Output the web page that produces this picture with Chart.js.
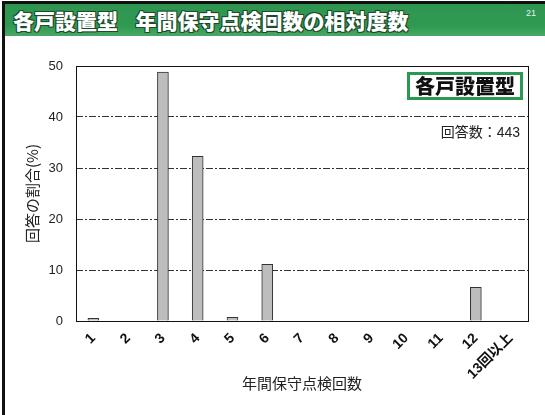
<!DOCTYPE html>
<html lang="ja">
<head>
<meta charset="utf-8">
<script src="https://cdn.jsdelivr.net/npm/chart.js@4/dist/chart.umd.min.js"></script>
<style>
  html, body { margin: 0; padding: 0; background: #ffffff; }
  body { width: 545px; height: 415px; position: relative; overflow: hidden; font-family: "Noto Sans CJK JP", "Liberation Sans", sans-serif; }
  #frame { position: absolute; left: 2px; top: 1px; width: 600px; height: 500px; border-top: 3px solid #111; border-left: 3px solid #111; box-sizing: border-box; }
  #titlebar { position: absolute; left: 5px; top: 4px; width: 545px; height: 32px; background: linear-gradient(#2e9550 0%, #2f9a52 70%, #4aa866 100%); }
  #title { position: absolute; left: 13px; top: 5px; color: #ffffff; font-weight: 900; font-size: 21px; line-height: 30px; white-space: pre; text-shadow: 1px 1px 0 #1d4a2a, -1px -1px 0 #1d4a2a, 1px -1px 0 #1d4a2a, -1px 1px 0 #1d4a2a; letter-spacing: 0px; word-spacing: 4px; }
  #pageno { position: absolute; left: 526px; top: 8px; color: #e8f3ea; font-size: 9px; font-family: "Liberation Sans", sans-serif; }
  #canvaswrap { position: absolute; left: 0; top: 0; width: 545px; height: 415px; }
  #legendbox { position: absolute; left: 407px; top: 72px; width: 116px; height: 28px; box-sizing: border-box; border: 3px solid #2a9a50; background: #fff; text-align: center; font-weight: 900; font-size: 20px; line-height: 22px; color: #111; }
  #count { position: absolute; right: 25px; top: 121px; font-size: 14px; color: #222; font-family: "Liberation Sans", "Noto Sans CJK JP", sans-serif; }
</style>
</head>
<body>
<div id="frame"></div>
<div id="titlebar"></div>
<div id="title">各戸設置型  年間保守点検回数の相対度数</div>
<div id="pageno">21</div>
<div id="canvaswrap"><canvas id="c" width="545" height="415"></canvas></div>
<div id="legendbox">各戸設置型</div>
<div id="count">回答数：443</div>
<script>
const categories = ["1", "2", "3", "4", "5", "6", "7", "8", "9", "10", "11", "12", "13回以上"];
const percentValues = [0.5, 0, 48.8, 32.3, 0.7, 11.1, 0, 0, 0, 0, 0, 6.6, 0];
const yTicks = [0, 10, 20, 30, 40, 50];
const xAxisTitle = "年間保守点検回数";
const yAxisTitle = "回答の割合(%)";

const frameBox = {
  id: 'frameBox',
  afterDraw(chart) {
    const {ctx, chartArea: a} = chart;
    ctx.save();
    ctx.strokeStyle = '#111';
    ctx.lineWidth = 1;
    ctx.strokeRect(Math.round(a.left) + 0.5, Math.round(a.top) + 0.5, Math.round(a.right - a.left), Math.round(a.bottom - a.top));
    ctx.restore();
  }
};

new Chart(document.getElementById('c'), {
  type: 'bar',
  data: {
    labels: categories,
    datasets: [{
      data: percentValues,
      backgroundColor: '#bdbdbd',
      borderColor: '#333333',
      borderWidth: 1,
      barThickness: 11
    }]
  },
  options: {
    responsive: false,
    animation: false,
    devicePixelRatio: 1,
    layout: { padding: { top: 66, right: 17, left: 0, bottom: 0 } },
    plugins: { legend: { display: false }, tooltip: { enabled: false } },
    scales: {
      x: {
        grid: { display: false, drawTicks: false },
        border: { display: false },
        ticks: {
          color: '#111',
          font: { family: '"Liberation Sans", "Noto Sans CJK JP", sans-serif', size: 14, weight: 'bold' },
          maxRotation: 45, minRotation: 45, padding: 9, autoSkip: false
        },
        title: {
          display: true, text: xAxisTitle, color: '#222',
          font: { family: '"Noto Sans CJK JP", sans-serif', size: 15 },
          padding: { top: 0, bottom: 23 }
        },
        afterFit(scale) { scale.height = 94; }
      },
      y: {
        min: 0, max: 50,
        afterBuildTicks(scale) { scale.ticks = yTicks.map(v => ({ value: v })); },
        grid: {
          drawTicks: false, lineWidth: 1,
          color: (ctx) => (ctx.tick && (ctx.tick.value === 0 || ctx.tick.value === 50)) ? 'rgba(0,0,0,0)' : '#333'
        },
        border: { display: false, dash: [7, 2, 2, 2] },
        ticks: {
          color: '#222', padding: 13,
          font: { family: '"Liberation Sans", sans-serif', size: 13 }
        },
        title: {
          display: true, text: yAxisTitle, color: '#222',
          font: { family: '"Noto Sans CJK JP", sans-serif', size: 15 },
          padding: { top: 23, bottom: 0 }
        },
        afterFit(scale) { scale.width = 76; }
      }
    }
  },
  plugins: [frameBox]
});
</script>
</body>
</html>
